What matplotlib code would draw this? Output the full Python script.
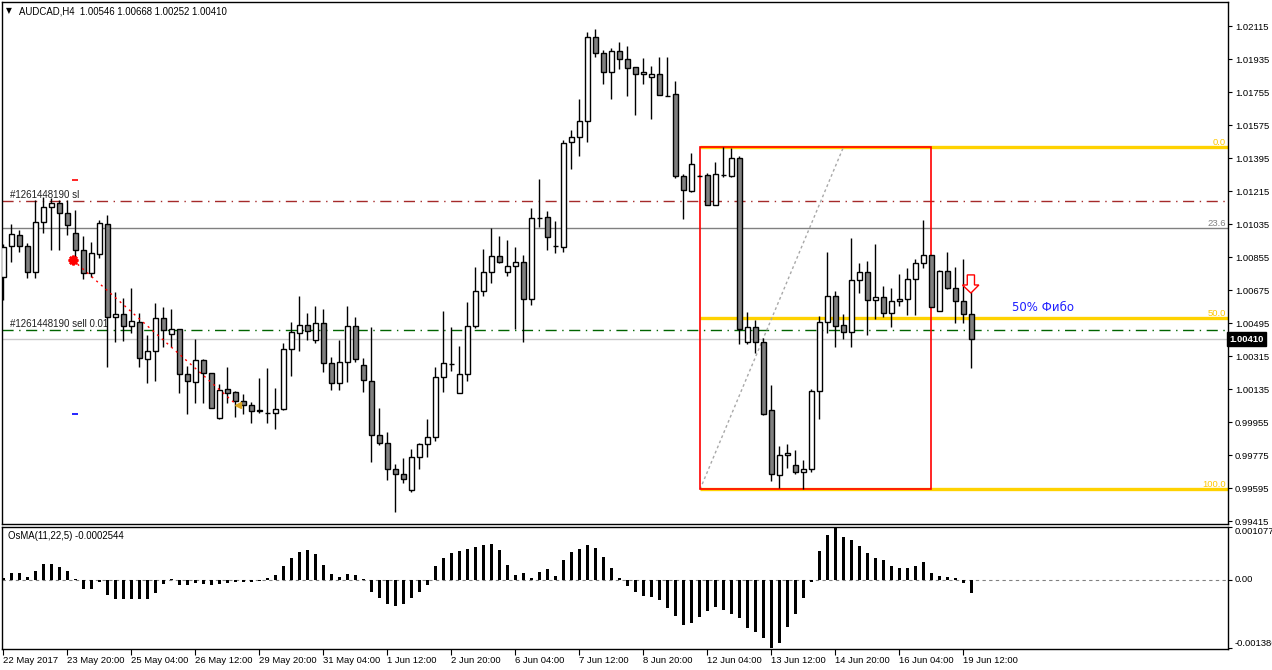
import matplotlib
matplotlib.use("Agg")
import matplotlib.pyplot as plt
from matplotlib.patches import Polygon, Rectangle
from matplotlib.transforms import blended_transform_factory
import numpy as np

plt.rcParams['font.family'] = ['Liberation Sans', 'DejaVu Sans']

# AUDCAD H4 bars, 22 May 2017 12:00 .. 19 Jun 2017 16:00
opens = [
    1.00747, 1.00918, 1.00976, 1.00916, 1.00777, 1.01047, 1.01129, 1.01151, 1.01096, 1.00987,
    1.00894, 1.00769, 1.00872, 1.01036, 1.00529, 1.00545, 1.00480, 1.00502, 1.00300, 1.00343,
    1.00523, 1.00436, 1.00463, 1.00218, 1.00174, 1.00294, 1.00223, 0.99978, 1.00136, 1.00120,
    1.00071, 1.00049, 1.00022, 1.00008, 1.00005, 1.00027, 1.00354, 1.00441, 1.00485, 1.00403,
    1.00496, 1.00278, 1.00169, 1.00283, 1.00480, 1.00267, 1.00180, 0.99885, 0.99842, 0.99700,
    0.99672, 0.99585, 0.99765, 0.99836, 0.99874, 1.00201, 1.00274, 1.00114, 1.00218, 1.00480,
    1.00671, 1.00774, 1.00862, 1.00774, 1.00807, 1.00829, 1.00627, 1.01070, 1.01074, 1.00918,
    1.00914, 1.01483, 1.01511, 1.01598, 1.02056, 1.01969, 1.01865, 1.01980, 1.01936, 1.01892,
    1.01854, 1.01838, 1.01854, 1.01738, 1.01746, 1.01301, 1.01219, 1.01301, 1.01303, 1.01140,
    1.01307, 1.01301, 1.01396, 1.00396, 1.00474, 1.00392, 1.00022, 0.99667, 0.99776, 0.99722,
    0.99683, 0.99700, 1.00125, 1.00502, 1.00643, 1.00485, 1.00447, 1.00731, 1.00774, 1.00622,
    1.00638, 1.00551, 1.00616, 1.00627, 1.00736, 1.00823, 1.00867, 1.00561, 1.00780, 1.00687,
    1.00616, 1.00546]
highs = [
    1.00931, 1.01038, 1.01003, 1.00932, 1.01167, 1.01183, 1.01178, 1.01169, 1.01169, 1.01112,
    1.00972, 1.00938, 1.01059, 1.01087, 1.00667, 1.00632, 1.00687, 1.00551, 1.00432, 1.00605,
    1.00587, 1.00572, 1.00467, 1.00263, 1.00409, 1.00300, 1.00223, 1.00163, 1.00256, 1.00125,
    1.00111, 1.00067, 1.00196, 1.00252, 1.00143, 1.00387, 1.00503, 1.00645, 1.00552, 1.00590,
    1.00574, 1.00312, 1.00405, 1.00590, 1.00530, 1.00307, 1.00474, 1.00034, 0.99903, 0.99727,
    0.99761, 0.99809, 0.99842, 0.99972, 1.00256, 1.00563, 1.00474, 1.00372, 1.00612, 1.00803,
    1.00901, 1.01014, 1.00972, 1.00950, 1.00911, 1.00869, 1.01123, 1.01283, 1.01109, 1.01054,
    1.01496, 1.01551, 1.01720, 1.02083, 1.02101, 1.01987, 1.01998, 1.02029, 1.02009, 1.01892,
    1.01942, 1.01900, 1.01949, 1.01949, 1.01818, 1.01310, 1.01423, 1.01305, 1.01317, 1.01376,
    1.01459, 1.01451, 1.01409, 1.00558, 1.00514, 1.00418, 1.00160, 0.99827, 0.99838, 0.99805,
    0.99749, 1.00139, 1.00534, 1.00883, 1.00671, 1.00545, 1.00960, 1.00823, 1.00834, 1.00927,
    1.00700, 1.00687, 1.00763, 1.00796, 1.00848, 1.01059, 1.00867, 1.00785, 1.00883, 1.00803,
    1.00848, 1.00668]
lows = [
    1.00623, 1.00832, 1.00887, 1.00741, 1.00745, 1.00990, 1.00896, 1.00896, 1.00978, 1.00847,
    1.00736, 1.00747, 1.00854, 1.00259, 1.00396, 1.00401, 1.00441, 1.00259, 1.00169, 1.00183,
    1.00368, 1.00368, 1.00114, 1.00004, 1.00060, 1.00060, 1.00032, 0.99972, 1.00060, 0.99983,
    1.00001, 0.99954, 1.00008, 0.99954, 0.99921, 1.00023, 1.00210, 1.00347, 1.00403, 1.00387,
    1.00232, 1.00134, 1.00134, 1.00176, 1.00287, 1.00123, 0.99741, 0.99831, 0.99643, 0.99468,
    0.99623, 0.99574, 0.99700, 0.99768, 0.99856, 1.00123, 1.00238, 1.00114, 1.00183, 1.00469,
    1.00645, 1.00718, 1.00823, 1.00756, 1.00465, 1.00396, 1.00596, 1.01023, 1.00896, 1.00881,
    1.00887, 1.01339, 1.01410, 1.01487, 1.01950, 1.01803, 1.01721, 1.01882, 1.01738, 1.01634,
    1.01800, 1.01612, 1.01740, 1.01734, 1.01290, 1.01067, 1.01214, 1.01298, 1.01140, 1.01140,
    1.01292, 1.01296, 1.00383, 1.00383, 1.00336, 0.99996, 0.99638, 0.99596, 0.99707, 0.99672,
    0.99591, 0.99687, 0.99972, 1.00441, 1.00365, 1.00409, 1.00365, 1.00663, 1.00431, 1.00518,
    1.00532, 1.00477, 1.00592, 1.00540, 1.00543, 1.00796, 1.00587, 1.00561, 1.00681, 1.00496,
    1.00496, 1.00252]
closes = [
    1.00914, 1.00981, 1.00916, 1.00774, 1.01047, 1.01129, 1.01151, 1.01096, 1.01031, 1.00894,
    1.00769, 1.00878, 1.01041, 1.00529, 1.00545, 1.00480, 1.00507, 1.00306, 1.00343, 1.00523,
    1.00458, 1.00463, 1.00218, 1.00180, 1.00294, 1.00223, 1.00036, 1.00131, 1.00114, 1.00071,
    1.00049, 1.00016, 1.00019, 1.00007, 1.00027, 1.00354, 1.00447, 1.00485, 1.00452, 1.00496,
    1.00278, 1.00169, 1.00283, 1.00480, 1.00300, 1.00185, 0.99885, 0.99842, 0.99700, 0.99672,
    0.99645, 0.99765, 0.99836, 0.99874, 1.00201, 1.00278, 1.00274, 1.00218, 1.00480, 1.00671,
    1.00774, 1.00862, 1.00832, 1.00807, 1.00829, 1.00627, 1.01069, 1.01070, 1.00965, 1.00918,
    1.01478, 1.01511, 1.01598, 1.02056, 1.01969, 1.01865, 1.01980, 1.01936, 1.01887, 1.01854,
    1.01865, 1.01854, 1.01740, 1.01738, 1.01301, 1.01222, 1.01363, 1.01301, 1.01140, 1.01310,
    1.01307, 1.01396, 1.00463, 1.00474, 1.00392, 1.00004, 0.99672, 0.99780, 0.99787, 0.99683,
    0.99700, 1.00125, 1.00502, 1.00643, 1.00480, 1.00447, 1.00731, 1.00774, 1.00622, 1.00638,
    1.00551, 1.00616, 1.00627, 1.00736, 1.00823, 1.00867, 1.00587, 1.00780, 1.00687, 1.00616,
    1.00545, 1.00410]

# OsMA(11,22,5) histogram
osma = [
    0.00004, 0.00014, 0.00014, 0.00006, 0.00018, 0.00032, 0.00032, 0.00026, 0.00018, 0.00002,
    -0.00018, -0.00018, -0.00004, -0.00030, -0.00039, -0.00039, -0.00039, -0.00039, -0.00039, -0.00026,
    -0.00008, 0.00002, -0.00010, -0.00010, -0.00006, -0.00008, -0.00010, -0.00008, -0.00006, -0.00004,
    -0.00004, -0.00004, -0.00002, 0.00004, 0.00010, 0.00028, 0.00045, 0.00057, 0.00061, 0.00053,
    0.00030, 0.00012, 0.00006, 0.00012, 0.00010, 0.00002, -0.00024, -0.00037, -0.00049, -0.00053,
    -0.00049, -0.00037, -0.00024, -0.00010, 0.00028, 0.00045, 0.00055, 0.00059, 0.00063, 0.00067,
    0.00071, 0.00073, 0.00061, 0.00030, 0.00010, 0.00014, 0.00004, 0.00016, 0.00022, 0.00008,
    0.00041, 0.00057, 0.00063, 0.00071, 0.00065, 0.00047, 0.00024, 0.00004, -0.00012, -0.00024,
    -0.00032, -0.00035, -0.00041, -0.00057, -0.00073, -0.00091, -0.00087, -0.00075, -0.00063, -0.00055,
    -0.00061, -0.00069, -0.00077, -0.00097, -0.00106, -0.00118, -0.001386, -0.00128, -0.00095, -0.00069,
    -0.00037, -0.00004, 0.00059, 0.00091, 0.0010775, 0.00087, 0.00081, 0.00069, 0.00055, 0.00045,
    0.00041, 0.00028, 0.00024, 0.00024, 0.00028, 0.00037, 0.00014, 0.00008, 0.00006, 0.00004,
    -0.00006, -0.0002544]

time_labels = ["22 May 2017", "23 May 20:00", "25 May 04:00", "26 May 12:00", "29 May 20:00",
               "31 May 04:00", "1 Jun 12:00", "2 Jun 20:00", "6 Jun 04:00", "7 Jun 12:00",
               "8 Jun 20:00", "12 Jun 04:00", "13 Jun 12:00", "14 Jun 20:00", "16 Jun 04:00",
               "19 Jun 12:00"]
price_ticks = [0.99415, 0.99595, 0.99775, 0.99955, 1.00135, 1.00315, 1.00495, 1.00675,
               1.00855, 1.01035, 1.01215, 1.01395, 1.01575, 1.01755, 1.01935, 1.02115]

fib_high, fib_low = 1.01455, 0.99591
fib_levels = [0.0, 23.6, 50.0, 100.0]
sl_price = 1.01163
open_price = 1.00457
bid = 1.00410

W, H = 1272, 670
fig = plt.figure(figsize=(W / 100, H / 100), dpi=100)
ax = fig.add_axes([2 / W, 1 - 524 / H, 1226 / W, 522 / H])
ax2 = fig.add_axes([2 / W, 1 - 649 / H, 1226 / W, 122 / H])

XMIN, XMAX = -0.16, 153.09
idx = np.arange(len(opens))
o, h, l, c = (np.array(v) for v in (opens, highs, lows, closes))

# candles
ax.vlines(idx, l, h, color="black", lw=1, zorder=4)
up = c >= o
ax.bar(idx, np.abs(c - o), bottom=np.minimum(o, c), width=0.62,
       color=np.where(up, "white", "#808080"), edgecolor="black", lw=1, zorder=5)

# horizontal lines
ax.axhline(sl_price, color="#A52A2A", lw=1, ls=(0, (8, 4, 1, 4)), zorder=2)
ax.axhline(open_price, color="#006400", lw=1, ls=(0, (8, 4, 1, 4)), zorder=2)
ax.axhline(bid, color="#C8C8C8", lw=1, zorder=1)

# fibo
x0, x1 = 87.1, 116.0
rng = fib_high - fib_low
for lev in fib_levels:
    p = fib_high - lev / 100 * rng
    if lev == 23.6:
        ax.axhline(p, color="#808080", lw=1, zorder=1)
        col = "#808080"
    else:
        ax.hlines(p, x0, XMAX, color="#FFD200", lw=2.4, zorder=2)
        col = "#FFC800"
    ax.text(152.8, p, f"{lev:.1f}", color=col, fontsize=6.8, ha="right", va="bottom", zorder=6)
ax.add_patch(Rectangle((x0, fib_low), x1 - x0, rng, fill=False, edgecolor="red", lw=1.2, zorder=3))
ax.plot([x0, 105.0], [fib_low, fib_high], color="#A8A8A8", lw=1, ls=(0, (2, 2)), zorder=2)

# trade history marks
ax.plot([8.7, 29.2], [1.00841, 1.00050], color="red", lw=1, ls=(0, (1.5, 3)), zorder=6)
ax.plot(8.7, 1.00841, marker=(8, 2, 0), color="red", ms=7, mew=1.8, zorder=7)
ax.plot(29.3, 1.00050, marker="<", color="#DAA520", ms=5, zorder=7)
ax.hlines(1.01278, 8.6, 9.4, color="red", lw=1.2)
ax.hlines(1.00000, 8.6, 9.4, color="blue", lw=1.2)

# sell arrow
arrow = [(120.5, 1.00760), (121.4, 1.00760), (121.4, 1.00705), (121.95, 1.00705),
         (120.95, 1.00661), (119.9, 1.00705), (120.5, 1.00705)]
ax.add_patch(Polygon(arrow, closed=True, facecolor="white", edgecolor="red", lw=1, zorder=8))

ax.text(126.1, 1.00580, "50% Фибо", color="#1E1EFF", fontsize=8.5, va="center", ha="left",
        family="DejaVu Sans")
ax.text(0.84, sl_price + 0.00008, "#1261448190 sl", fontsize=7, color="#202020", va="bottom")
ax.text(0.84, open_price + 0.00008, "#1261448190 sell 0.01", fontsize=7, color="#202020", va="bottom")

ax.set_xlim(XMIN, XMAX)
ax.set_ylim(0.994013, 1.022486)
ax.set_yticks(price_ticks)
ax.set_yticklabels([f"{t:.5f}" for t in price_ticks])
ax.yaxis.tick_right()
ax.tick_params(axis="y", length=3, labelsize=6.8, pad=2)
ax.tick_params(axis="x", bottom=False, labelbottom=False)

tr = blended_transform_factory(ax.transAxes, ax.transData)
ax.text(1.0012, bid, "1.00410", transform=tr, fontsize=6.8, color="white", va="center", ha="left",
        fontweight="bold",
        bbox=dict(boxstyle="square,pad=0.25", fc="black", ec="black"), zorder=9, clip_on=False)

# OsMA pane
ax2.bar(idx, osma, width=0.4, color="black", zorder=3)
ax2.axhline(0, color="#808080", lw=0.8, ls=(0, (3, 3)), zorder=1)
ax2.set_xlim(XMIN, XMAX)
ax2.set_ylim(-0.001403, 0.0010775)
ax2.yaxis.tick_right()
ax2.set_yticks([0.0010775, 0.0, -0.001386])
ax2.set_yticklabels(["0.0010775", "0.00", "-0.001386"])
for lab, va in zip(ax2.get_yticklabels(), ["top", "center", "bottom"]):
    lab.set_va(va)
ax2.tick_params(axis="y", length=3, labelsize=6.8, pad=2)
ax2.set_xticks(np.arange(0, 8 * len(time_labels), 8))
ax2.set_xticklabels(time_labels, ha="left")
ax2.tick_params(axis="x", length=4, labelsize=6.8, pad=1)

for a in (ax, ax2):
    for s in a.spines.values():
        s.set_linewidth(1)
        s.set_color("black")

fig.text(6 / W, 1 - 11 / H, "▼", fontsize=5.5, va="center", family="DejaVu Sans")
fig.text(19 / W, 1 - 11 / H, "AUDCAD,H4  1.00546 1.00668 1.00252 1.00410", fontsize=6.9, va="center")
fig.text(8 / W, 1 - 536 / H, "OsMA(11,22,5) -0.0002544", fontsize=6.9, va="center")

fig.savefig("out.png", dpi=100)
